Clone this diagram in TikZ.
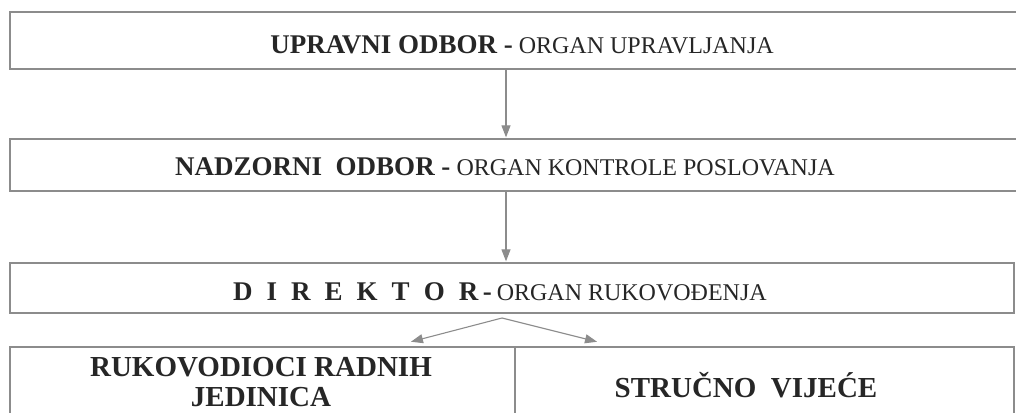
\documentclass[tikz,border=0pt]{standalone}
\usepackage{fontspec}
\setmainfont{Liberation Serif}
\usepackage{xcolor}
\usetikzlibrary{arrows.meta,positioning}

\definecolor{linegray}{HTML}{8C8C8C}
\definecolor{inkgray}{HTML}{262626}

\newcommand\headbf[1]{{\fontsize{27}{30}\selectfont\bfseries #1}}
\newcommand\subreg[1]{{\fontsize{24}{28}\selectfont #1}}

\tikzset{
  orgbox/.style={draw=linegray,line width=1.3pt,inner sep=0pt},
  orglabel/.style={text=inkgray,inner sep=0pt,align=center},
  flow/.style={draw=linegray,line width=1.1pt,shorten >=1pt,-{Triangle[length=12pt,width=9pt]}}
}

\begin{document}
\begin{tikzpicture}[x=1pt,y=-1pt]
        \useasboundingbox (0,0) rectangle (1016,412);
        % boxes
        \node[orgbox,minimum width=1012pt,minimum height=57pt] (upravni) at (516,40.5) {};
        \node[orgbox,minimum width=1012pt,minimum height=52pt] (nadzorni) at (516,165) {};
        \node[orgbox,minimum width=1004pt,minimum height=50pt] (direktor) at (512,288) {};
        \node[orgbox,minimum width=505pt,minimum height=83pt] (jedinice) at (262.5,388.5) {};
        \node[orgbox,minimum width=499pt,minimum height=83pt] (vijece) at (764.5,388.5) {};
        % texts
        \node[orglabel] (upravnitxt) at (522,45) {\headbf{UPRAVNI ODBOR -}\hspace{6pt}\subreg{ORGAN UPRAVLJANJA}};
        \node[orglabel] (nadzornitxt) at (505,167) {\headbf{NADZORNI\ \ ODBOR -}\hspace{6pt}\subreg{ORGAN KONTROLE POSLOVANJA}};
        \node[orglabel] (direktortxt) at (500,292) {\headbf{{\spaceskip=14pt D I R E K T O R}\,-}\hspace{5pt}\subreg{ORGAN RUKOVOĐENJA}};
        \node[orglabel,font=\fontsize{29}{30}\selectfont\bfseries] (jedinicetxt) at (261,382) {RUKOVODIOCI RADNIH\\JEDINICA};
        \node[orglabel,font=\fontsize{29}{30}\selectfont\bfseries] (vijecetxt) at (746,385) {STRUČNO\ \ VIJEĆE};
        % arrows
        \coordinate (fork) at (502,318);
        \coordinate (ltip) at (410,342);
        \coordinate (rtip) at (598,342);
        \draw[flow] ([xshift=-10pt]upravni.south) -- ([xshift=-10pt]nadzorni.north);
        \draw[flow] ([xshift=-10pt]nadzorni.south) -- ([xshift=-6pt]direktor.north);
        \draw[flow] (fork) -- (ltip);
        \draw[flow] (fork) -- (rtip);
\end{tikzpicture}
\end{document}
